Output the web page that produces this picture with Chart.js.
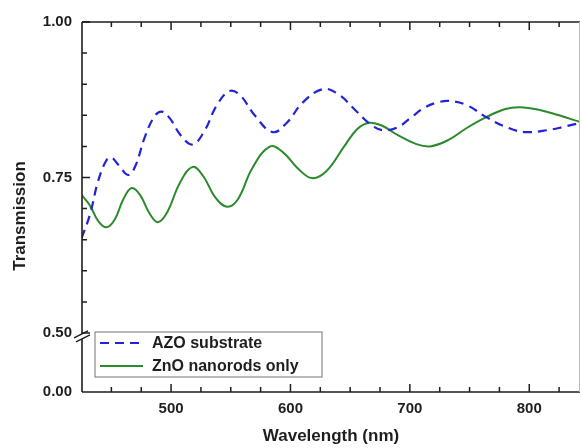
<!DOCTYPE html>
<html>
<head>
<meta charset="utf-8">
<script src="https://cdn.jsdelivr.net/npm/chart.js@4.4.1/dist/chart.umd.min.js"></script>
<style>
  html, body { margin: 0; padding: 0; background: #fff; }
  #wrap { width: 581px; height: 448px; }
</style>
</head>
<body>
<div id="wrap"><canvas id="chart" width="581" height="448"></canvas></div>
<script>
// AZO substrate (dashed blue)
const azoWavelength = [425, 432, 439, 446, 450, 456, 464, 470, 478, 486, 492, 499, 508, 518, 528, 538, 549, 558, 570, 585, 597, 610, 627, 640, 655, 668, 678, 690, 700, 712, 722, 733, 748, 764, 782, 797, 815, 830, 843];
const azoTransmission = [0.652, 0.690, 0.745, 0.778, 0.782, 0.770, 0.754, 0.768, 0.815, 0.848, 0.856, 0.845, 0.818, 0.803, 0.825, 0.865, 0.889, 0.882, 0.850, 0.823, 0.838, 0.870, 0.892, 0.884, 0.857, 0.834, 0.826, 0.831, 0.845, 0.862, 0.870, 0.873, 0.866, 0.847, 0.830, 0.823, 0.826, 0.832, 0.838];

// ZnO nanorods only (solid green)
const znoWavelength = [425, 432, 439, 446, 453, 460, 467, 474, 482, 489, 497, 507, 518, 527, 537, 547, 556, 568, 583, 594, 606, 618, 630, 645, 656, 666, 676, 690, 705, 717, 732, 748, 764, 780, 792, 808, 825, 843];
const znoTransmission = [0.722, 0.705, 0.680, 0.670, 0.683, 0.715, 0.733, 0.722, 0.692, 0.678, 0.695, 0.740, 0.767, 0.752, 0.718, 0.703, 0.715, 0.765, 0.800, 0.790, 0.765, 0.749, 0.760, 0.800, 0.828, 0.838, 0.834, 0.818, 0.804, 0.800, 0.810, 0.830, 0.847, 0.860, 0.863, 0.859, 0.850, 0.839];

// axis: broken y axis, 0.00 sits just below the 0.50 break
const yBreakValue = 0.4051;
const yTicks = [yBreakValue, 0.50, 0.55, 0.60, 0.65, 0.70, 0.75, 0.80, 0.85, 0.90, 0.95, 1.00];
const yTickLabels = ['0.00', '0.50', '', '', '', '', '0.75', '', '', '', '', '1.00'];
const xTicks = [450, 475, 500, 525, 550, 575, 600, 625, 650, 675, 700, 725, 750, 775, 800, 825];
const xTickLabels = ['', '', '500', '', '', '', '600', '', '', '', '700', '', '', '', '800', ''];

const seriesNames = ['AZO substrate', 'ZnO nanorods only'];
const blue = '#2323d6';
const green = '#2b8a2b';
const ink = '#1e1e1e';
const fontFamily = '"Liberation Sans", Arial, sans-serif';

const toPoints = (xs, ys) => xs.map((x, i) => ({ x: x, y: ys[i] }));

// frame, inward ticks, axis break, legend and y title
const framePlugin = {
    id: 'frame',
    afterDraw(chart) {
        const { ctx, chartArea: a } = chart;
        const xs = chart.scales.x, ys = chart.scales.y;
        ctx.save();
        ctx.strokeStyle = ink;
        ctx.lineWidth = 1.6;
        ctx.beginPath();
        ctx.moveTo(a.left, a.top); ctx.lineTo(a.right, a.top);
        ctx.moveTo(a.left, a.bottom); ctx.lineTo(a.right, a.bottom);
        ctx.moveTo(a.left, a.top); ctx.lineTo(a.left, a.bottom);
        ctx.stroke();
        ctx.strokeStyle = '#bbb';
        ctx.lineWidth = 1;
        ctx.beginPath();
        ctx.moveTo(a.right - 0.5, a.top); ctx.lineTo(a.right - 0.5, a.bottom);
        ctx.stroke();

        ctx.strokeStyle = ink;
        ctx.lineWidth = 1.5;
        ctx.beginPath();
        xTicks.forEach((v, i) => {
            const px = xs.getPixelForValue(v);
            const len = xTickLabels[i] ? 8 : 5;
            ctx.moveTo(px, a.bottom); ctx.lineTo(px, a.bottom - len);
            ctx.moveTo(px, a.top); ctx.lineTo(px, a.top + len);
        });
        yTicks.forEach((v, i) => {
            if (i === 0) return;
            const py = ys.getPixelForValue(v);
            const len = yTickLabels[i] ? 8 : 5;
            ctx.moveTo(a.left, py); ctx.lineTo(a.left + len, py);
        });
        ctx.stroke();

        // axis break at the 0.50 level
        const yb = ys.getPixelForValue(0.5);
        ctx.fillStyle = '#fff';
        ctx.fillRect(a.left - 3, yb + 1, 6, 5);
        ctx.lineWidth = 1.4;
        ctx.beginPath();
        ctx.moveTo(a.left - 8, yb + 5); ctx.lineTo(a.left + 6, yb - 2);
        ctx.moveTo(a.left - 6, yb + 9); ctx.lineTo(a.left + 8, yb + 2);
        ctx.stroke();

        // legend
        const lx = 95, ly = 332, lw = 227, lh = 45;
        ctx.fillStyle = '#fff';
        ctx.fillRect(lx, ly, lw, lh);
        ctx.strokeStyle = '#8a8a8a';
        ctx.lineWidth = 1.2;
        ctx.strokeRect(lx, ly, lw, lh);
        chart.data.datasets.forEach((ds, i) => {
            const y = ly + 11 + i * 23;
            ctx.strokeStyle = ds.borderColor;
            ctx.lineWidth = ds.borderWidth;
            ctx.setLineDash(ds.borderDash || []);
            ctx.beginPath();
            ctx.moveTo(lx + 5, y); ctx.lineTo(lx + 48, y);
            ctx.stroke();
            ctx.setLineDash([]);
            ctx.fillStyle = ink;
            ctx.font = 'bold 16px ' + fontFamily;
            ctx.textBaseline = 'middle';
            ctx.textAlign = 'left';
            ctx.fillText(ds.label, lx + 57, y + 1);
        });

        // y title
        ctx.translate(20, 216);
        ctx.rotate(-Math.PI / 2);
        ctx.fillStyle = ink;
        ctx.font = 'bold 17px ' + fontFamily;
        ctx.textAlign = 'center';
        ctx.textBaseline = 'middle';
        ctx.fillText('Transmission', 0, 0);
        ctx.restore();
    }
};

new Chart(document.getElementById('chart').getContext('2d'), {
    type: 'line',
    data: {
        datasets: [{
            label: seriesNames[0],
            data: toPoints(azoWavelength, azoTransmission),
            borderColor: blue,
            borderWidth: 2.2,
            borderDash: [9, 6],
            pointRadius: 0,
            tension: 0.4,
            fill: false
        }, {
            label: seriesNames[1],
            data: toPoints(znoWavelength, znoTransmission),
            borderColor: green,
            borderWidth: 2,
            pointRadius: 0,
            tension: 0.4,
            fill: false
        }]
    },
    options: {
        responsive: false,
        animation: false,
        layout: { padding: { top: 22, right: 1, left: 0, bottom: 0 } },
        plugins: {
            legend: { display: false },
            tooltip: { enabled: false }
        },
        scales: {
            x: {
                type: 'linear',
                min: 425.4,
                max: 842.5,
                afterBuildTicks: scale => { scale.ticks = xTicks.map(v => ({ value: v })); },
                afterFit: scale => { scale.height = 56; },
                grid: { display: false, drawTicks: false },
                border: { display: false },
                ticks: {
                    padding: 8,
                    autoSkip: false,
                    maxRotation: 0,
                    color: ink,
                    font: { family: fontFamily, size: 15, weight: 'bold' },
                    callback: (v, i) => xTickLabels[i]
                },
                title: {
                    display: true,
                    text: 'Wavelength (nm)',
                    color: ink,
                    font: { family: fontFamily, size: 17, weight: 'bold' },
                    padding: { top: 0, bottom: 1 }
                }
            },
            y: {
                type: 'linear',
                min: yBreakValue,
                max: 1.0,
                afterBuildTicks: scale => { scale.ticks = yTicks.map(v => ({ value: v })); },
                afterFit: scale => { scale.width = 82; },
                grid: { display: false, drawTicks: false },
                border: { display: false },
                ticks: {
                    padding: 10,
                    autoSkip: false,
                    color: ink,
                    font: { family: fontFamily, size: 15, weight: 'bold' },
                    callback: (v, i) => yTickLabels[i]
                }
            }
        }
    },
    plugins: [framePlugin]
});
</script>
</body>
</html>
